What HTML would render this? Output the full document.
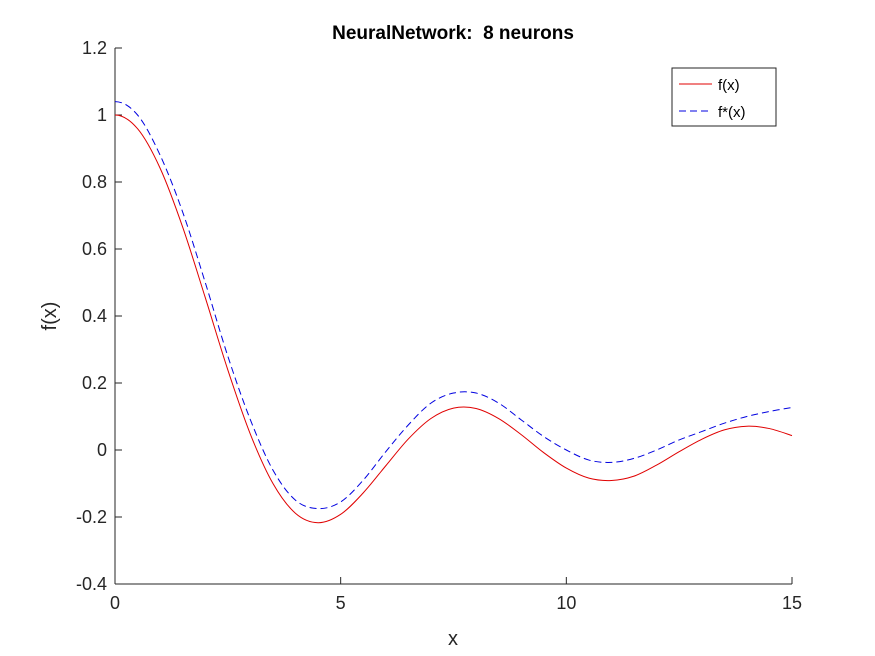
<!DOCTYPE html>
<html><head><meta charset="utf-8"><style>
body{margin:0;background:#fff;}
svg{display:block;font-family:"Liberation Sans",Arial,sans-serif;}
</style></head><body>
<svg id="chart" width="875" height="656">
<rect width="875" height="656" fill="#fff"/>
<text x="453" y="39" text-anchor="middle" font-size="19" font-weight="bold" fill="#000" xml:space="preserve">NeuralNetwork:  8 neurons</text>
<g id="axes"></g>
<g id="series"></g>
<g>
<rect x="672" y="68" width="104" height="58" fill="#fff" stroke="#262626" stroke-width="1"/>
<line x1="679" y1="84" x2="712" y2="84" stroke="#e00000" stroke-width="1"/>
<text x="718" y="90" font-size="15" fill="#000">f(x)</text>
<line x1="679" y1="111" x2="712" y2="111" stroke="#0000e0" stroke-width="1" stroke-dasharray="7,4"/>
<text x="718" y="117" font-size="15" fill="#000">f*(x)</text>
</g>
<text x="453" y="645" text-anchor="middle" font-size="20" fill="#262626">x</text>
<text transform="translate(56,316) rotate(-90)" text-anchor="middle" font-size="20" fill="#262626">f(x)</text>
</svg>
<script>
const xs=[0,0.5,1,1.5,2,2.5,3,3.5,4,4.5,5,5.5,6,6.5,7,7.5,8,8.5,9,9.5,10,10.5,11,11.5,12,12.5,13,13.5,14,14.5,15];
const fVals=[1,0.959,0.841,0.665,0.455,0.239,0.047,-0.100,-0.189,-0.217,-0.192,-0.128,-0.047,0.033,0.094,0.125,0.124,0.094,0.046,-0.008,-0.054,-0.084,-0.091,-0.078,-0.045,-0.005,0.032,0.060,0.071,0.064,0.043];
const fStarVals=[1.04,1.00,0.88,0.71,0.50,0.28,0.09,-0.06,-0.15,-0.175,-0.155,-0.09,-0.005,0.075,0.14,0.17,0.17,0.14,0.09,0.04,0.0,-0.03,-0.037,-0.025,0.0,0.03,0.055,0.08,0.1,0.115,0.127];
const xTicks=[0,5,10,15];
const yTicks=[-0.4,-0.2,0,0.2,0.4,0.6,0.8,1,1.2];
const yTickLabels=["-0.4","-0.2","0","0.2","0.4","0.6","0.8","1","1.2"];
const L=115,R=792,T=48,B=584;
const sx=v=>L+(v-0)/(15-0)*(R-L);
const sy=v=>B-(v+0.4)/1.6*(B-T);
const NS="http://www.w3.org/2000/svg";
const axes=document.getElementById('axes');
function mk(t,a,p){const e=document.createElementNS(NS,t);for(const k in a)e.setAttribute(k,a[k]);p.appendChild(e);return e;}
const xa=mk('line',{x1:L,y1:B,x2:R,y2:B,stroke:'#262626'},axes);


const ya=mk('line',{x1:L,y1:T,x2:L,y2:B,stroke:'#262626'},axes);


xTicks.forEach(v=>{
 mk('line',{x1:sx(v),y1:B,x2:sx(v),y2:B-7,stroke:'#262626'},axes);
 const t=mk('text',{x:sx(v),y:B+25,'text-anchor':'middle','font-size':18,fill:'#262626'},axes);
 t.textContent=v;
 
 
});
yTicks.forEach((v,i)=>{
 mk('line',{x1:L,y1:sy(v),x2:L+7,y2:sy(v),stroke:'#262626'},axes);
 const t=mk('text',{x:L-8,y:sy(v)+6,'text-anchor':'end','font-size':18,fill:'#262626'},axes);
 t.textContent=yTickLabels[i];
 
 
});
function path(vals){
 const p=xs.map((x,i)=>[sx(x),sy(vals[i])]);
 let d='M'+p[0][0]+','+p[0][1];
 for(let i=0;i<p.length-1;i++){
  const p0=i===0?[2*p[0][0]-p[1][0],p[1][1]]:p[i-1],p1=p[i],p2=p[i+1],p3=p[Math.min(p.length-1,i+2)];
  const c1=[p1[0]+(p2[0]-p0[0])/6,p1[1]+(p2[1]-p0[1])/6];
  const c2=[p2[0]-(p3[0]-p1[0])/6,p2[1]-(p3[1]-p1[1])/6];
  d+=' C'+c1+' '+c2+' '+p2;
 }
 return d;
}
const sg=document.getElementById('series');
const l1=mk('path',{d:path(fVals),fill:'none',stroke:'#e00000','stroke-width':1},sg);


const l2=mk('path',{d:path(fStarVals),fill:'none',stroke:'#0000e0','stroke-width':1,'stroke-dasharray':'7,4'},sg);


</script>
</body></html>
